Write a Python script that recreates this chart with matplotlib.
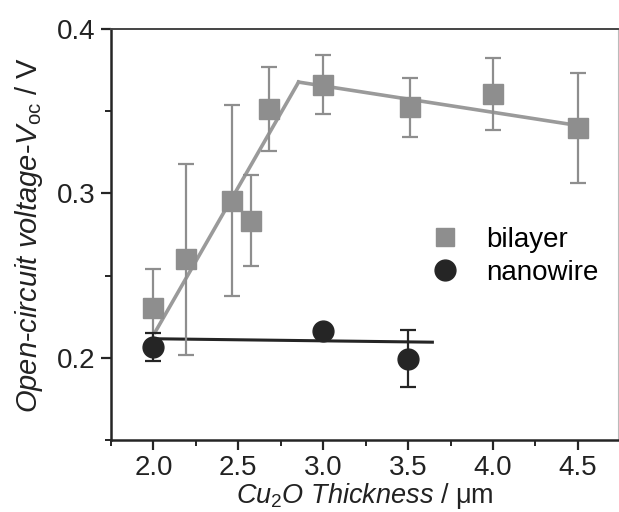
import matplotlib
matplotlib.use("Agg")
import matplotlib.pyplot as plt
from matplotlib.lines import Line2D
from matplotlib.ticker import MultipleLocator

plt.rcParams['font.family'] = ['Liberation Sans', 'DejaVu Sans']
plt.rcParams['mathtext.fontset'] = 'custom'
plt.rcParams['mathtext.rm'] = 'Liberation Sans'
plt.rcParams['mathtext.it'] = 'Liberation Sans:italic'

# bilayer samples
bi_x = [2.0, 2.19, 2.465, 2.575, 2.683, 3.0, 3.51, 4.0, 4.5]
bi_y = [0.230, 0.260, 0.2955, 0.2834, 0.3515, 0.366, 0.3524, 0.3606, 0.340]
bi_err = [0.024, 0.058, 0.058, 0.0276, 0.0256, 0.018, 0.018, 0.022, 0.0335]

# nanowire samples
nw_x = [2.0, 3.0, 3.5]
nw_y = [0.2065, 0.216, 0.1994]
nw_err = [0.0085, 0.0, 0.0173]

# fitted trend lines
bi_fit1_x = [2.01, 2.855]
bi_fit1_y = [0.2156, 0.3677]
bi_fit2_x = [2.855, 4.5]
bi_fit2_y = [0.3677, 0.3413]
nw_fit_x = [2.0, 3.643]
nw_fit_y = [0.2116, 0.2095]

gray = '#8e8e8e'
dark = '#252525'

fig = plt.figure(figsize=(6.19, 5.12), dpi=100)
ax = fig.add_axes([0.1793, 0.1406, 0.8187, 0.8028])

ax.plot(bi_fit1_x, bi_fit1_y, color='#9a9a9a', lw=2.6, zorder=3)
ax.plot(bi_fit2_x, bi_fit2_y, color='#9a9a9a', lw=2.6, zorder=3)
ax.plot(nw_fit_x, nw_fit_y, color=dark, lw=2.2, zorder=3)

ax.errorbar(bi_x, bi_y, yerr=bi_err, fmt='s', color=gray, ms=14, mec=gray,
            ecolor=gray, elinewidth=1.6, capsize=6, capthick=1.6, zorder=4)
ax.errorbar(nw_x, nw_y, yerr=nw_err, fmt='o', color=dark, ms=15, mec=dark,
            ecolor=dark, elinewidth=1.6, capsize=6, capthick=1.6, zorder=5)

ax.set_xlim(1.75, 4.735)
ax.set_ylim(0.15, 0.4)
ax.xaxis.set_major_locator(MultipleLocator(0.5))
ax.xaxis.set_minor_locator(MultipleLocator(0.25))
ax.yaxis.set_minor_locator(MultipleLocator(0.05))
ax.set_yticks([0.2, 0.3, 0.4])
ax.tick_params(which='major', direction='out', length=7, width=1.6,
               labelsize=20, color=dark, labelcolor='#222222', pad=4)
ax.tick_params(which='minor', direction='out', length=4, width=1.4, color=dark)

for side in ['left', 'bottom']:
    ax.spines[side].set_linewidth(1.8)
    ax.spines[side].set_color(dark)
ax.spines['top'].set_linewidth(1.4)
ax.spines['top'].set_color('#444444')
ax.spines['right'].set_linewidth(0.8)
ax.spines['right'].set_color('#bbbbbb')

ax.set_xlabel(r'$\mathit{Cu_2O\ Thickness}$ / μm', fontsize=19.5, color='#222222',
              labelpad=0)
ax.set_ylabel(r'$\mathit{Open}$-$\mathit{circuit\ voltage}$-$\mathit{V}_{\mathrm{oc}}$ / V',
              fontsize=21, color='#222222', labelpad=9)

handles = [
    Line2D([], [], ls='none', marker='s', ms=13, color=gray, mec=gray),
    Line2D([], [], ls='none', marker='o', ms=15, color=dark, mec=dark),
]
ax.legend(handles, ['bilayer', 'nanowire'], loc='upper left',
          bbox_to_anchor=(0.576, 0.58), frameon=False, fontsize=20,
          handletextpad=0.9, labelspacing=0.25, handlelength=1.2)

fig.savefig('out.png', dpi=100)
